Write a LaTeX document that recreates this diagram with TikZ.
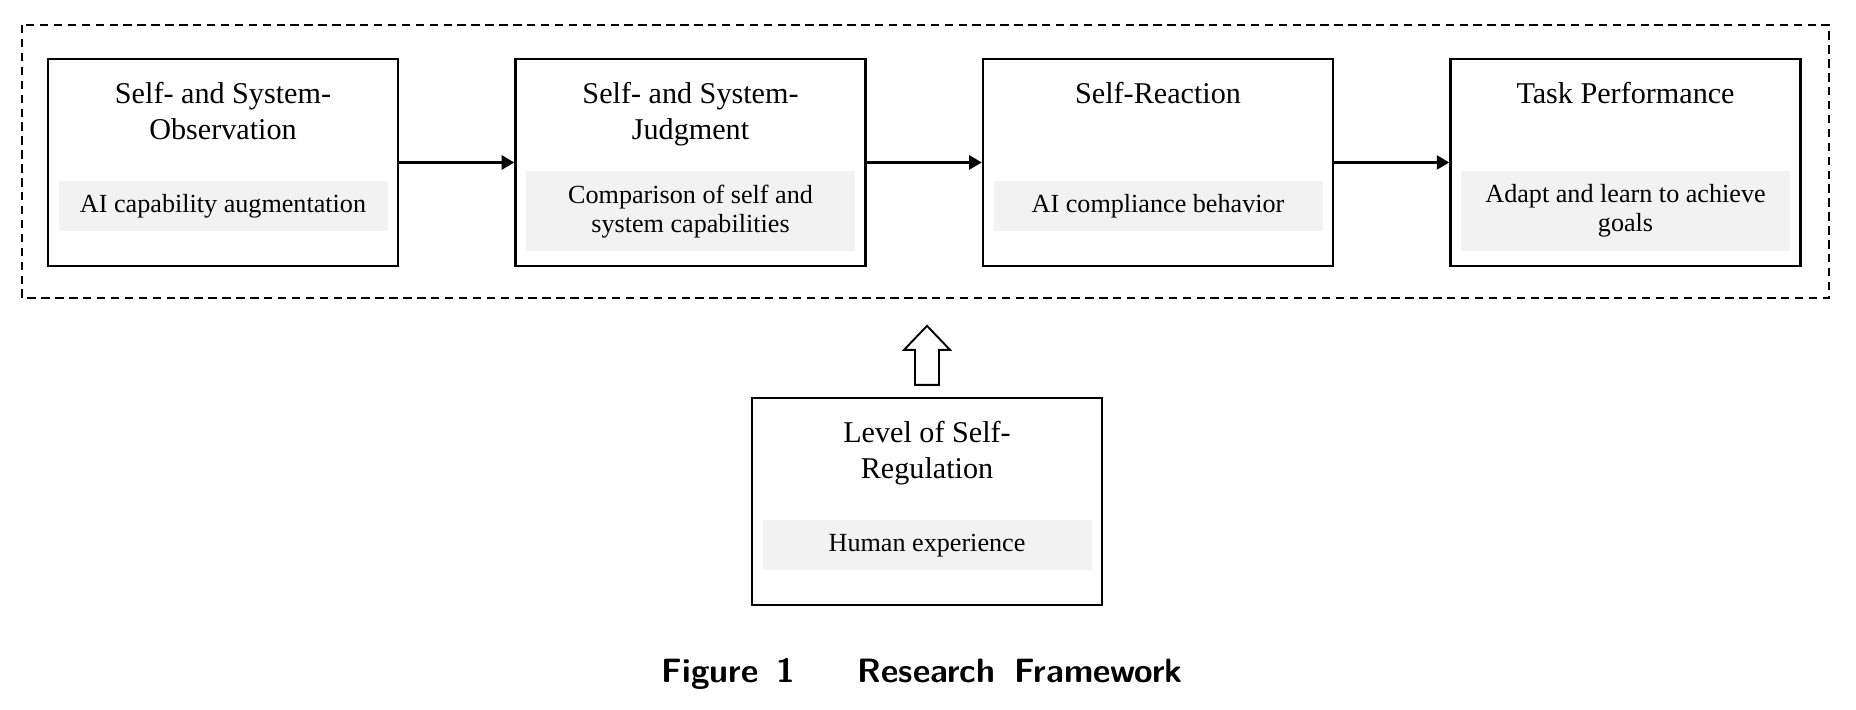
\documentclass[tikz,border=0pt]{standalone}
\usepackage{fontspec}
\setmainfont{Liberation Serif}
\usetikzlibrary{positioning,arrows.meta}

\begin{document}
\begin{tikzpicture}[
  stage/.style={draw,line width=1.1pt,minimum width=5.833cm,minimum height=3.45cm,inner sep=0pt},
  head/.style={font=\fontsize{14.3}{17.1}\selectfont,align=center,inner sep=0pt},
  note/.style={fill=black!5,font=\fontsize{12.4}{13.75}\selectfont,align=center,minimum width=5.483cm,minimum height=0.833cm,inner sep=0pt},
  note2/.style={note,minimum height=1.333cm},
  flow/.style={line width=1.8pt,-{Triangle[length=6pt,width=6.5pt]}},
  hollow/.style={line width=0.9pt,line join=miter}
]
\useasboundingbox (0,0) rectangle (30.933,-11.833);
\draw[line width=0.9pt,dash pattern=on 4pt off 2.6pt] (0.367,-0.417) rectangle (30.483,-4.967);

\node[stage] (obs) at (3.717,-2.708) {};
\node[stage,right=1.92cm of obs] (judg) {};
\node[stage,right=1.92cm of judg] (react) {};
\node[stage,right=1.92cm of react] (perf) {};
\node[stage] (level) at (15.45,-8.358) {};

\node[head,below=0.4cm of obs.north] (obs-t) {Self- and System-\\Observation};
\node[head,below=0.4cm of judg.north] (judg-t) {Self- and System-\\Judgment};
\node[head,below=0.4cm of react.north] (react-t) {Self-Reaction};
\node[head,below=0.4cm of perf.north] (perf-t) {Task Performance};
\node[head,below=0.4cm of level.north] (level-t) {Level of Self-\\Regulation};

\node[note,below=2.05cm of obs.north] (obs-n) {AI capability augmentation};
\node[note2,below=1.883cm of judg.north] (judg-n) {Comparison of self and\\system capabilities};
\node[note,below=2.05cm of react.north] (react-n) {AI compliance behavior};
\node[note2,below=1.883cm of perf.north] (perf-n) {Adapt and learn to achieve\\goals};
\node[note,below=2.05cm of level.north] (level-n) {Human experience};

\draw[flow] (obs) -- (judg);
\draw[flow] (judg) -- (react);
\draw[flow] (react) -- (perf);

\draw[hollow] ([shift={(-0.2,0.2)}]level.north) -- ++(0,0.583) -- ++(-0.183,0)
  -- ++(0.383,0.4) -- ++(0.383,-0.4) -- ++(-0.183,0) -- ++(0,-0.583) -- cycle;

\node[font=\sffamily\bfseries\fontsize{16}{19}\selectfont,anchor=base] (cap) at (15.37,-11.383)
  {Figure\hspace{0.3cm}1\hspace{1.05cm}Research\hspace{0.32cm}Framework};
\end{tikzpicture}
\end{document}
